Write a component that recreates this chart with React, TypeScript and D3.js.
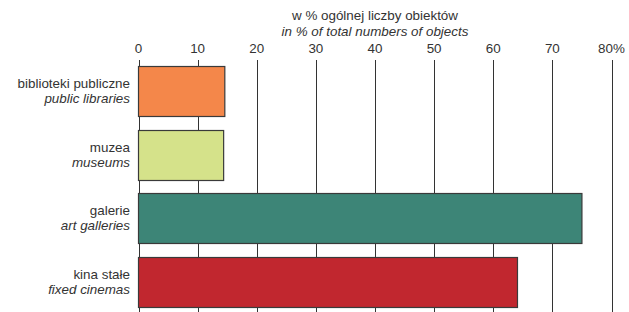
import { useRef, useEffect } from "react";
import * as d3 from "d3";

const categoriesPl = ["biblioteki publiczne", "muzea", "galerie", "kina stałe"];
const categoriesEn = ["public libraries", "museums", "art galleries", "fixed cinemas"];
const shares = [14.6, 14.4, 75.0, 64.1];
const barColors = ["#F4874A", "#D5E28A", "#3D8577", "#C1272F"];
const tickValues = [0, 10, 20, 30, 40, 50, 60, 70, 80];

const W = 629;
const H = 312;
const FONT = "'Liberation Sans', Arial, sans-serif";
const FS = "13.4px";

export default function App() {
  const svgRef = useRef<SVGSVGElement>(null);

  useEffect(() => {
    if (!svgRef.current) return;
    const svg = d3.select(svgRef.current);
    svg.selectAll("*").remove();

    const x = d3.scaleLinear().domain([0, 80]).range([138.5, 611.5]);
    const y = d3.scaleBand().domain(categoriesPl).range([60, 313]).paddingInner(0.22).paddingOuter(0.1);

    // titles
    svg.append("text")
      .attr("x", (x(0) + x(80)) / 2).attr("y", 20)
      .attr("text-anchor", "middle")
      .style("font-size", FS).style("fill", "#333")
      .text("w % ogólnej liczby obiektów");
    svg.append("text")
      .attr("x", (x(0) + x(80)) / 2).attr("y", 36)
      .attr("text-anchor", "middle")
      .style("font-size", FS).style("font-style", "italic").style("fill", "#333")
      .text("in % of total numbers of objects");

    // grid lines
    svg.append("g")
      .selectAll("line")
      .data(tickValues)
      .join("line")
      .attr("x1", (d) => Math.round(x(d)) + 0.5).attr("x2", (d) => Math.round(x(d)) + 0.5)
      .attr("y1", 60).attr("y2", H)
      .attr("stroke", "#333").attr("stroke-width", 1);

    // tick labels
    svg.append("g")
      .selectAll("text")
      .data(tickValues)
      .join("text")
      .attr("x", (d) => x(d))
      .attr("y", 53)
      .attr("text-anchor", "middle")
      .style("font-size", FS).style("fill", "#333")
      .text((d) => (d === 80 ? "80%" : String(d)));

    // bars
    svg.append("g")
      .selectAll("rect")
      .data(shares)
      .join("rect")
      .attr("x", x(0))
      .attr("y", (_, i) => Math.round(y(categoriesPl[i]) || 0) + 0.5)
      .attr("width", (d) => x(d) - x(0))
      .attr("height", Math.round(y.bandwidth()))
      .attr("fill", (_, i) => barColors[i])
      .attr("stroke", "#3a3a3a").attr("stroke-width", 1.2);

    // category labels
    const labels = svg.append("g")
      .selectAll("g")
      .data(categoriesPl)
      .join("g")
      .attr("transform", (d) => `translate(130,${(y(d) || 0) + y.bandwidth() / 2})`);
    labels.append("text")
      .attr("text-anchor", "end").attr("y", -3)
      .style("font-size", FS).style("fill", "#333")
      .text((d) => d);
    labels.append("text")
      .attr("text-anchor", "end").attr("y", 12)
      .style("font-size", FS).style("font-style", "italic").style("fill", "#333")
      .text((_, i) => categoriesEn[i]);
  }, []);

  return (
    <svg
      ref={svgRef}
      width={W}
      height={H}
      style={{ position: "absolute", left: 0, top: 0, fontFamily: FONT, background: "#fff" }}
    />
  );
}
